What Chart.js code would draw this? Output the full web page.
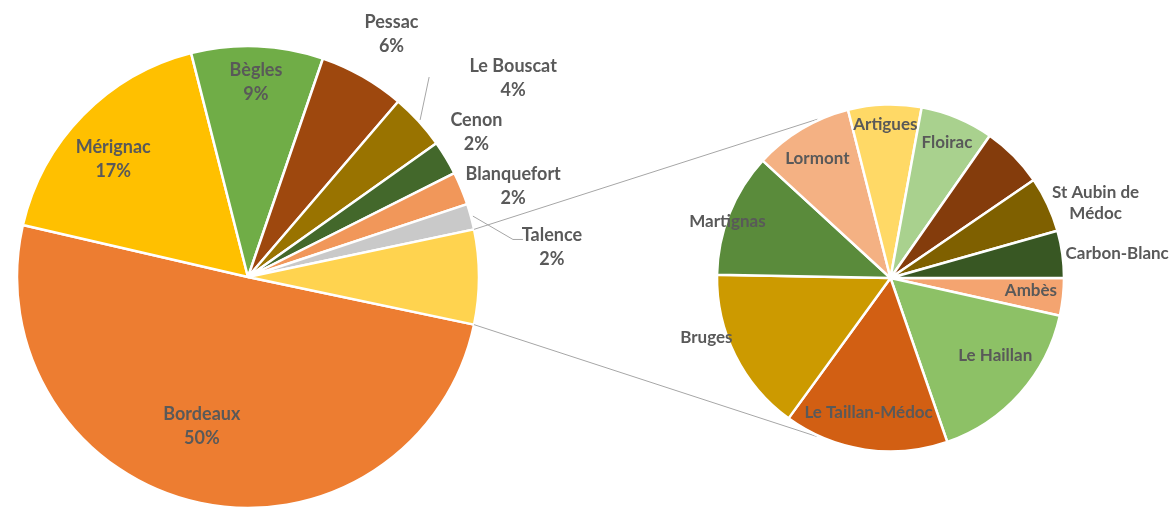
<!DOCTYPE html>
<html><head><meta charset="utf-8">
<script src="https://cdn.jsdelivr.net/npm/chart.js@4.4.1/dist/chart.umd.min.js"></script>
<style>
html,body{margin:0;padding:0;background:#fff;overflow:hidden;width:1169px;height:507px}
canvas{position:absolute;left:0;top:0}
</style></head><body>
<canvas id="main" width="1169" height="507"></canvas>
<canvas id="sub" width="1169" height="507"></canvas>
<script>
// ---- DATA ----
const mainLabels = ['Bordeaux', 'Mérignac', 'Bègles', 'Pessac', 'Le Bouscat', 'Cenon', 'Blanquefort', 'Talence'];
const mainValues = [50.2, 17.4, 9.2, 6.0, 3.9, 2.4, 2.3, 1.8];
const subLabels = ['Ambès', 'Le Haillan', 'Le Taillan-Médoc', 'Bruges', 'Martignas', 'Lormont', 'Artigues', 'Floirac', '', 'St Aubin de Médoc', 'Carbon-Blanc'];
const subValues = [0.23, 1.07, 1.01, 1.01, 0.76, 0.61, 0.45, 0.45, 0.38, 0.34, 0.29];

// ---- STYLES ----
const mainColors = ['#ED7D31', '#FFC000', '#70AD47', '#9E480E', '#997300', '#43682B', '#F1975A', '#C9C9C9', '#FFD34F'];
const subColors = ['#F4A470', '#8DC166', '#D25F13', '#CC9A00', '#5A8B3B', '#F4B183', '#FFD966', '#A9D18E', '#843C0C', '#7F6000', '#385723'];
const TEXT = '#595959';
const LINE = '#A6A6A6';
const MAIN_FONT = 'bold 18px Lato';
const SUB_FONT = 'bold 17px Lato';
const LH = 24;

// label placement: r = fraction of radius along mid angle, da = angle shift (deg)
const mainLayout = [
  {r: 0.678, da: 4.7},
  {r: 0.774, da: -3.3},
  {r: 0.843, da: 0},
  {r: 1.222, da: 0.8},
  {r: 1.435, da: 5.5, leader: [[-84, -1]]},
  {r: 1.170, da: -1.3},
  {r: 1.213, da: 3.7},
  {r: 1.322, da: 9.6, leader: [[-39, -8], [-29, -8]]},
  null
];
const subLayout = [
  {r: 0.813, da: -1},
  {r: 0.750, da: -5.3},
  {r: 0.785, da: 0.8},
  {r: 1.116, da: 8.4},
  {r: 0.994, da: -2.8},
  {r: 0.807, da: -0.7},
  {r: 0.885, da: 0},
  {r: 0.846, da: 0},
  null,
  {r: 1.258, da: 5.1, wrap: 95},
  {r: 1.314, da: 1.8}
];

const otherTotal = subValues.reduce((a, b) => a + b, 0);
const mainData = mainValues.concat([otherTotal]);
const mainTotal = mainData.reduce((a, b) => a + b, 0);

function wrapText(ctx, text, maxW) {
  const words = text.split(' ');
  const lines = [];
  let cur = '';
  words.forEach(w => {
    const t = cur ? cur + ' ' + w : w;
    if (ctx.measureText(t).width > maxW && cur) { lines.push(cur); cur = w; } else cur = t;
  });
  if (cur) lines.push(cur);
  return lines;
}

function labelPlugin(layout, withPct, font, lh) {
  return {
    id: 'labels',
    afterDatasetsDraw(chart) {
      const ctx = chart.ctx;
      const meta = chart.getDatasetMeta(0);
      const ds = chart.data.datasets[0];
      const total = ds.data.reduce((a, b) => a + b, 0);
      ctx.save();
      ctx.font = font;
      ctx.fillStyle = TEXT;
      ctx.textAlign = 'center';
      ctx.textBaseline = 'middle';
      meta.data.forEach((arc, i) => {
        const L = layout[i];
        const name = chart.data.labels[i];
        if (!L || !name) return;
        const mid0 = (arc.startAngle + arc.endAngle) / 2;
        const mid = mid0 + L.da * Math.PI / 180;
        const rr = arc.outerRadius * L.r;
        const cx = arc.x + rr * Math.cos(mid);
        const cy = arc.y + rr * Math.sin(mid);
        const lines = L.wrap ? wrapText(ctx, name, L.wrap) : [name];
        if (withPct) lines.push(Math.round(ds.data[i] / total * 100) + '%');
        const y0 = cy - (lines.length - 1) * lh / 2;
        lines.forEach((t, k) => ctx.fillText(t, cx, y0 + k * lh));
        if (L.leader) {
          ctx.save();
          ctx.strokeStyle = LINE;
          ctx.lineWidth = 1;
          ctx.beginPath();
          const sr = arc.outerRadius + 2;
          ctx.moveTo(arc.x + sr * Math.cos(mid0), arc.y + sr * Math.sin(mid0));
          L.leader.forEach(p => ctx.lineTo(cx + p[0], cy + p[1]));
          ctx.stroke();
          ctx.restore();
        }
      });
      ctx.restore();
    }
  };
}

const connectorPlugin = {
  id: 'connectors',
  beforeDatasetsDraw(chart) {
    const left = Chart.getChart('main');
    if (!left) return;
    const la = left.getDatasetMeta(0).data[mainData.length - 1];
    const ra = chart.getDatasetMeta(0).data[0];
    const C = {x: ra.x, y: ra.y}, r = ra.outerRadius;
    const ctx = chart.ctx;
    ctx.save();
    ctx.strokeStyle = LINE;
    ctx.lineWidth = 1;
    [[la.startAngle, -1], [la.endAngle, 1]].forEach(([ang, s]) => {
      const P = {x: la.x + la.outerRadius * Math.cos(ang), y: la.y + la.outerRadius * Math.sin(ang)};
      const dx = C.x - P.x, dy = C.y - P.y;
      const d = Math.hypot(dx, dy);
      const th = Math.atan2(dy, dx) + s * Math.asin(r / d);
      const len = Math.sqrt(d * d - r * r) * 0.945;
      ctx.beginPath();
      ctx.moveTo(P.x, P.y);
      ctx.lineTo(P.x + len * Math.cos(th), P.y + len * Math.sin(th));
      ctx.stroke();
    });
    ctx.restore();
  }
};

function build() {
  new Chart(document.getElementById('main'), {
    type: 'pie',
    data: {
      labels: mainLabels.concat(['']),
      datasets: [{data: mainData, backgroundColor: mainColors, borderColor: '#FFFFFF', borderWidth: 2.5}]
    },
    options: {
      responsive: false, animation: false, events: [],
      radius: 231,
      rotation: 90 + (otherTotal / mainTotal) * 180,
      layout: {padding: {left: 17, right: 1169 - 479, top: 47, bottom: 0}},
      plugins: {legend: {display: false}, tooltip: {enabled: false}}
    },
    plugins: [labelPlugin(mainLayout, true, MAIN_FONT, LH)]
  });
  new Chart(document.getElementById('sub'), {
    type: 'pie',
    data: {
      labels: subLabels,
      datasets: [{data: subValues, backgroundColor: subColors, borderColor: '#FFFFFF', borderWidth: 2.5}]
    },
    options: {
      responsive: false, animation: false, events: [],
      radius: 173.5,
      rotation: 90,
      layout: {padding: {left: 717, right: 1169 - 1064, top: 104, bottom: 507 - 452}},
      plugins: {legend: {display: false}, tooltip: {enabled: false}}
    },
    plugins: [connectorPlugin, labelPlugin(subLayout, false, SUB_FONT, 21)]
  });
}
Promise.all([document.fonts.load(MAIN_FONT), document.fonts.load(SUB_FONT)]).then(build, build);
</script>
</body></html>
